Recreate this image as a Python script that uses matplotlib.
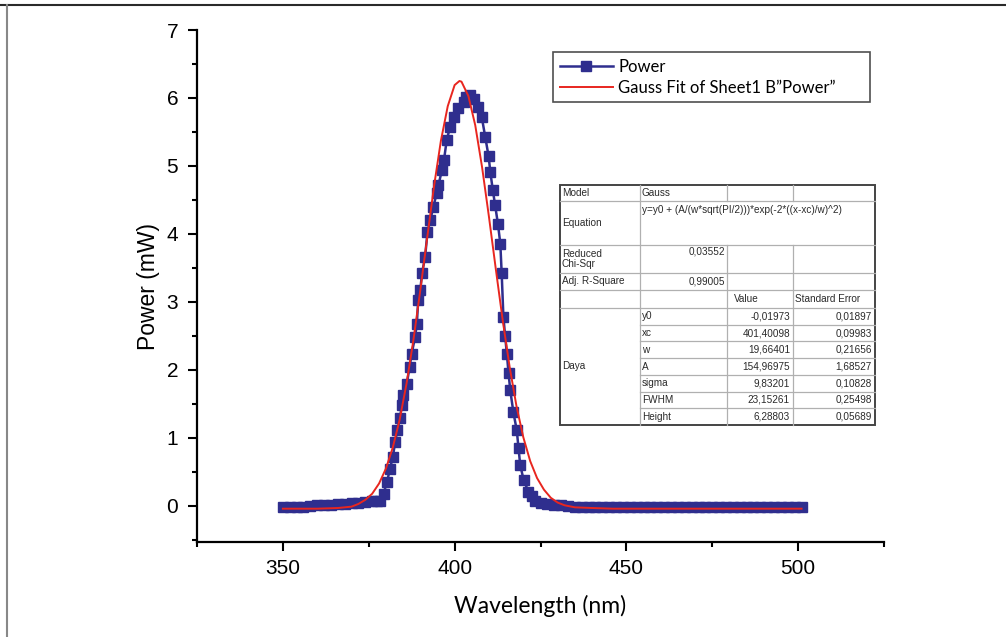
import matplotlib
matplotlib.use('Agg')
import matplotlib.pyplot as plt
from matplotlib.ticker import MultipleLocator

wl = [350, 352, 354, 356, 358, 360, 362, 364, 366, 368, 370, 372, 374, 376, 377.5,
      378.3, 379.3, 380.3, 381.2, 382.0, 382.7, 383.3, 384.1, 384.6, 385.1, 386.1,
      386.9, 387.5, 388.5, 389.0, 389.4, 390.0, 390.5, 391.4, 392.1, 392.9, 393.8,
      394.8, 395.3, 396.3, 396.9, 397.7, 398.7, 399.7, 401.1, 402.6, 403.4, 404.4,
      405.5, 406.9, 407.9, 408.9, 409.9, 410.4, 411.1, 411.8, 412.6, 413.3, 413.7,
      414.2, 414.7, 415.2, 415.7, 416.2, 417.1, 418.1, 418.6, 419.1, 420.1, 421.5,
      422.5, 423.5, 425, 427, 429, 431, 433, 435, 437, 439, 441, 443, 445, 447, 449,
      451, 453, 455, 457, 459, 461, 463, 465, 467, 469, 471, 473, 475, 477, 479, 481,
      483, 485, 487, 489, 491, 493, 495, 497, 499, 501]
power = [-0.02, -0.02, -0.02, -0.01, 0.0, 0.01, 0.01, 0.02, 0.03, 0.03, 0.04, 0.05, 0.06, 0.07, 0.07,
         0.08, 0.18, 0.35, 0.55, 0.72, 0.94, 1.11, 1.29, 1.48, 1.63, 1.80,
         2.05, 2.24, 2.49, 2.68, 3.03, 3.17, 3.42, 3.66, 4.03, 4.20, 4.40,
         4.60, 4.72, 4.94, 5.09, 5.38, 5.58, 5.72, 5.85, 5.94, 6.02, 6.04,
         5.99, 5.87, 5.72, 5.43, 5.14, 4.91, 4.65, 4.42, 4.15, 3.86, 3.42,
         2.78, 2.50, 2.24, 1.95, 1.70, 1.38, 1.11, 0.85, 0.60, 0.38, 0.21,
         0.14, 0.08, 0.05, 0.03, 0.02, 0.01, 0.0, -0.01, -0.01, -0.01, -0.01, -0.01, -0.01, -0.01, -0.01,
         -0.01, -0.01, -0.01, -0.01, -0.01, -0.01, -0.01, -0.01, -0.01, -0.01, -0.01, -0.01, -0.01, -0.01, -0.01, -0.01,
         -0.01, -0.01, -0.01, -0.01, -0.01, -0.01, -0.01, -0.01, -0.01, -0.01]

# gauss fit curve
fit_wl = [350, 360, 366, 370, 372, 374, 376, 378, 380, 382, 384, 386, 388, 390, 392, 394,
          396, 398, 400, 401.4, 402, 404, 406, 408, 410, 412, 414, 416, 418, 420, 422,
          424, 426, 428, 430, 432, 435, 440, 446, 460, 501]
fit_pw = [-0.04, -0.04, -0.03, -0.01, 0.03, 0.09, 0.18, 0.33, 0.55, 0.86, 1.27, 1.80, 2.44,
          3.17, 3.94, 4.70, 5.37, 5.88, 6.19, 6.25, 6.24, 6.03, 5.60, 4.98, 4.25, 3.48,
          2.73, 2.05, 1.47, 1.01, 0.66, 0.41, 0.24, 0.12, 0.05, 0.01, -0.02, -0.03, -0.04,
          -0.04, -0.04]

# fit report
eq_text = 'y=y0 + (A/(w*sqrt(PI/2)))*exp(-2*((x-xc)/w)^2)'
chi_sqr = '0,03552'
adj_r2 = '0,99005'
par_names = ['y0', 'xc', 'w', 'A', 'sigma', 'FWHM', 'Height']
par_values = ['-0,01973', '401,40098', '19,66401', '154,96975', '9,83201', '23,15261', '6,28803']
par_errors = ['0,01897', '0,09983', '0,21656', '1,68527', '0,10828', '0,25498', '0,05689']

W, H = 1006, 637
fig = plt.figure(figsize=(W / 100, H / 100), dpi=100)
ax = fig.add_axes([197 / W, (H - 542) / H, (884 - 197) / W, (542 - 30) / H])

blue = '#2f2e8e'
red = '#e8261f'
ax.plot(wl, power, color=blue, marker='s', markersize=7.5, lw=1.8, label='Power')
ax.plot(fit_wl, fit_pw, color=red, lw=1.4, label='Gauss Fit of Sheet1 B\u201dPower\u201d')

ax.set_xlim(325, 525)
ax.set_ylim(-0.53, 7)
ax.xaxis.set_major_locator(MultipleLocator(50))
ax.xaxis.set_minor_locator(MultipleLocator(25))
ax.yaxis.set_major_locator(MultipleLocator(1))
ax.yaxis.set_minor_locator(MultipleLocator(0.5))
for s in ['top', 'right']:
    ax.spines[s].set_visible(False)
for s in ['left', 'bottom']:
    ax.spines[s].set_linewidth(1.6)
ax.tick_params(which='major', direction='out', length=6.5, width=1.5, labelsize=15, pad=6)
ax.tick_params(which='minor', direction='out', length=3.5, width=1.5)
ax.tick_params(axis='y', which='major', pad=7)
for lab in ax.get_xticklabels() + ax.get_yticklabels():
    lab.set_fontfamily('Liberation Sans')

ax.set_xlabel('Wavelength (nm)', fontsize=16.5, family='Lato', labelpad=12)
ax.set_ylabel('Power (mW)', fontsize=16.5, family='Liberation Sans', labelpad=5)

leg = ax.legend(loc='upper left', bbox_to_anchor=(553 / W, 1 - 100 / H, (870 - 553) / W, 48 / H),
                bbox_transform=fig.transFigure, mode='expand', borderaxespad=0,
                fancybox=False, frameon=True, numpoints=1, handlelength=3.2,
                handletextpad=0.3, borderpad=0.4, labelspacing=0.3,
                prop={'family': 'Lato', 'size': 12})
leg.get_frame().set_edgecolor('#222222')
leg.get_frame().set_linewidth(1.2)

# fit table drawn in pixel coordinates
tb = fig.add_axes([0, 0, 1, 1], zorder=5)
tb.set_xlim(0, W)
tb.set_ylim(H, 0)
tb.axis('off')

cols = [560, 640, 727, 793, 875]
rows = [185, 201, 245, 273, 290, 308]
step = (425 - 308) / 7
prow = [308 + i * step for i in range(8)]
tb.add_patch(plt.Rectangle((cols[0], rows[0]), cols[-1] - cols[0], 425 - rows[0],
                           facecolor='white', edgecolor='none'))
gc = '#b0b0b0'
for y in rows[1:]:
    tb.plot([cols[0], cols[-1]], [y, y], color=gc, lw=0.9)
for y in prow[1:-1]:
    tb.plot([cols[1], cols[-1]], [y, y], color=gc, lw=0.9)
tb.plot([cols[1], cols[1]], [rows[0], 425], color=gc, lw=0.9)
for x in cols[2:4]:
    tb.plot([x, x], [rows[0], rows[1]], color=gc, lw=0.9)
    tb.plot([x, x], [rows[2], 425], color=gc, lw=0.9)
tb.add_patch(plt.Rectangle((cols[0], rows[0]), cols[-1] - cols[0], 425 - rows[0],
                           facecolor='none', edgecolor='#444444', lw=1.4))

tk = dict(fontsize=7.2, family='Liberation Sans', color='#2a2a2a')
tb.text(cols[0] + 2, 193, 'Model', va='center', **tk)
tb.text(cols[1] + 2, 193, 'Gauss', va='center', **tk)
tb.text(cols[0] + 2, 223, 'Equation', va='center', **tk)
tb.text(cols[1] + 2, 210, eq_text, va='center', **tk)
tb.text(cols[0] + 2, 259, 'Reduced\nChi-Sqr', va='center', linespacing=0.95, **tk)
tb.text(cols[2] - 2, 252, chi_sqr, va='center', ha='right', **tk)
tb.text(cols[0] + 2, 281.5, 'Adj. R-Square', va='center', **tk)
tb.text(cols[2] - 2, 281.5, adj_r2, va='center', ha='right', **tk)
tb.text(cols[2] + 7, 299, 'Value', va='center', **tk)
tb.text(cols[3] + 2, 299, 'Standard Error', va='center', **tk)
tb.text(cols[0] + 2, 366, 'Daya', va='center', **tk)
for i, (n, v, e) in enumerate(zip(par_names, par_values, par_errors)):
    yc = prow[i] + step / 2
    tb.text(cols[1] + 2, yc, n, va='center', **tk)
    tb.text(cols[3] - 3, yc, v, va='center', ha='right', **tk)
    tb.text(cols[4] - 3, yc, e, va='center', ha='right', **tk)

# picture frame
tb.plot([0, W], [5, 5], color='#2a2a2a', lw=1.5)
tb.plot([7, 7], [5, H], color='#888888', lw=1.5)

fig.savefig('out.png', dpi=100)
